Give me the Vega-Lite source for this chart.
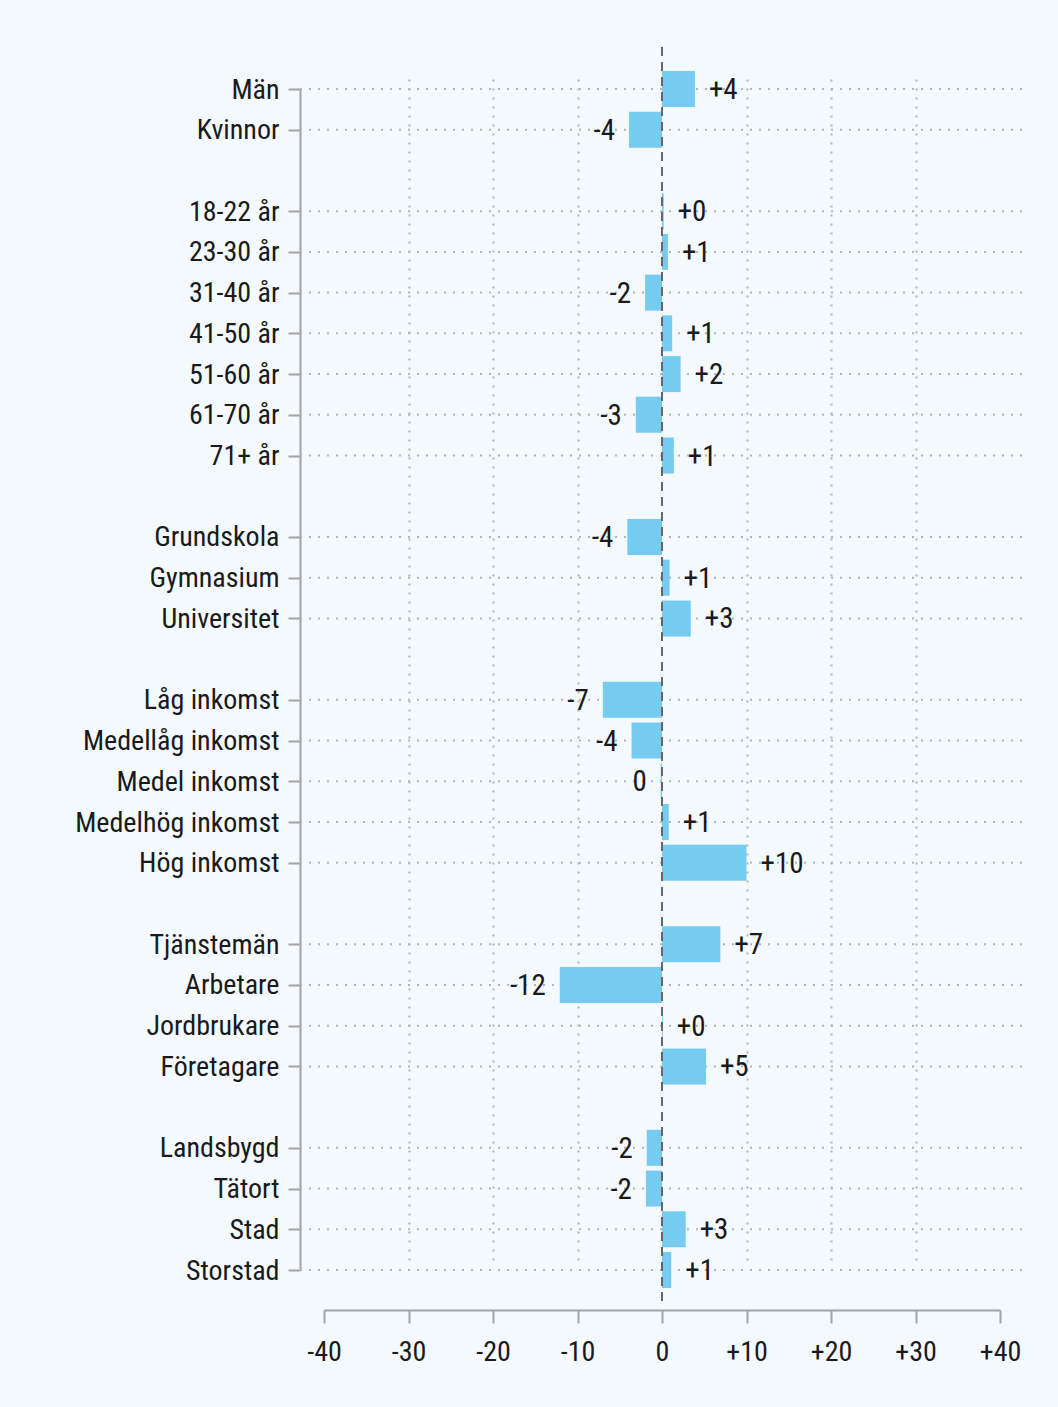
{
  "$schema": "https://vega.github.io/schema/vega-lite/v6.json",
  "autosize": {"type": "none"},
  "padding": {"left": 324, "top": 47, "right": 58, "bottom": 105},
  "width": 676,
  "height": 1255,
  "background": "#f3f9fd",
  "config": {
    "view": {"stroke": null},
    "font": "Liberation Sans Narrow, Roboto Condensed, Roboto",
    "text": {"font": "Liberation Sans Narrow, Roboto Condensed, Roboto"}
  },
  "data": {
    "values": [
      {"category": "Män", "value": 3.9, "label": "+4"},
      {"category": "Kvinnor", "value": -3.9, "label": "-4"},
      {"category": "18-22 år", "value": 0.2, "label": "+0"},
      {"category": "23-30 år", "value": 0.7, "label": "+1"},
      {"category": "31-40 år", "value": -2.0, "label": "-2"},
      {"category": "41-50 år", "value": 1.2, "label": "+1"},
      {"category": "51-60 år", "value": 2.2, "label": "+2"},
      {"category": "61-70 år", "value": -3.1, "label": "-3"},
      {"category": "71+ år", "value": 1.4, "label": "+1"},
      {"category": "Grundskola", "value": -4.1, "label": "-4"},
      {"category": "Gymnasium", "value": 0.9, "label": "+1"},
      {"category": "Universitet", "value": 3.4, "label": "+3"},
      {"category": "Låg inkomst", "value": -7.0, "label": "-7"},
      {"category": "Medellåg inkomst", "value": -3.6, "label": "-4"},
      {"category": "Medel inkomst", "value": -0.15, "label": "0"},
      {"category": "Medelhög inkomst", "value": 0.8, "label": "+1"},
      {"category": "Hög inkomst", "value": 10.0, "label": "+10"},
      {"category": "Tjänstemän", "value": 6.9, "label": "+7"},
      {"category": "Arbetare", "value": -12.1, "label": "-12"},
      {"category": "Jordbrukare", "value": 0.1, "label": "+0"},
      {"category": "Företagare", "value": 5.2, "label": "+5"},
      {"category": "Landsbygd", "value": -1.8, "label": "-2"},
      {"category": "Tätort", "value": -1.9, "label": "-2"},
      {"category": "Stad", "value": 2.8, "label": "+3"},
      {"category": "Storstad", "value": 1.1, "label": "+1"}
    ]
  },
  "encoding": {
    "y": {
      "field": "category",
      "type": "nominal",
      "scale": {
        "type": "point",
        "padding": 0,
        "range": [42, 1223],
        "domain": ["Män","Kvinnor","g1","18-22 år","23-30 år","31-40 år","41-50 år","51-60 år","61-70 år","71+ år","g2","Grundskola","Gymnasium","Universitet","g3","Låg inkomst","Medellåg inkomst","Medel inkomst","Medelhög inkomst","Hög inkomst","g4","Tjänstemän","Arbetare","Jordbrukare","Företagare","g5","Landsbygd","Tätort","Stad","Storstad"]
      },
      "axis": {
        "title": null,
        "values": ["Män","Kvinnor","18-22 år","23-30 år","31-40 år","41-50 år","51-60 år","61-70 år","71+ år","Grundskola","Gymnasium","Universitet","Låg inkomst","Medellåg inkomst","Medel inkomst","Medelhög inkomst","Hög inkomst","Tjänstemän","Arbetare","Jordbrukare","Företagare","Landsbygd","Tätort","Stad","Storstad"],
        "offset": 24,
        "domain": true,
        "domainColor": "#a3a3a3",
        "domainWidth": 2,
        "ticks": true,
        "tickColor": "#a3a3a3",
        "tickWidth": 2,
        "tickSize": 12,
        "grid": false,
        "labelFontSize": 28,
        "labelColor": "#1a1a1a",
        "labelPadding": 9,
        "labelLimit": 400,
        "labelOverlap": false,
        "labelOffset": 1,
        "labelFont": "Liberation Sans Narrow, Roboto Condensed, Roboto"
      }
    }
  },
  "layer": [
    {
      "mark": {"type": "rule", "color": "#b5b5b5", "strokeWidth": 2, "strokeDash": [2, 7]},
      "encoding": {
        "x": {"datum": -42.84, "type": "quantitative"},
        "x2": {"datum": 42.6}
      }
    },
    {
      "mark": {"type": "bar", "height": 36, "color": "#76cbf0"},
      "encoding": {
        "x": {
          "field": "value",
          "type": "quantitative",
          "scale": {"domain": [-40, 40], "nice": false, "zero": true},
          "axis": {
            "title": null,
            "values": [-40, -30, -20, -10, 0, 10, 20, 30, 40],
            "offset": 8,
            "domain": true,
            "domainColor": "#a3a3a3",
            "domainWidth": 2,
            "tickColor": "#a3a3a3",
            "tickWidth": 2,
            "tickSize": 13,
            "grid": true,
            "gridColor": "#b5b5b5",
            "gridWidth": 2,
            "gridDash": [2, 7],
            "gridOpacity": {"condition": {"test": "abs(datum.value) == 40 || datum.value == 0", "value": 0}, "value": 1},
            "labelExpr": "datum.value > 0 ? '+' + datum.value : '' + datum.value",
            "labelFontSize": 28,
            "labelColor": "#1a1a1a",
            "labelPadding": 15,
            "labelFlush": false,
            "labelOverlap": false,
            "labelFont": "Liberation Sans Narrow, Roboto Condensed, Roboto"
          }
        },
        "x2": {"datum": 0}
      }
    },
    {
      "mark": {"type": "rule", "color": "#666666", "strokeWidth": 2, "strokeDash": [9, 6]},
      "encoding": {
        "x": {"datum": 0, "type": "quantitative"},
        "y": null
      }
    },
    {
      "transform": [{"filter": "datum.value >= 0"}],
      "mark": {"type": "text", "align": "left", "baseline": "middle", "dx": 14, "dy": 1, "fontSize": 29, "color": "#1a1a1a"},
      "encoding": {
        "x": {"field": "value", "type": "quantitative"},
        "text": {"field": "label"}
      }
    },
    {
      "transform": [{"filter": "datum.value < 0"}],
      "mark": {"type": "text", "align": "right", "baseline": "middle", "dx": -14, "dy": 1, "fontSize": 29, "color": "#1a1a1a"},
      "encoding": {
        "x": {"field": "value", "type": "quantitative"},
        "text": {"field": "label"}
      }
    }
  ]
}
